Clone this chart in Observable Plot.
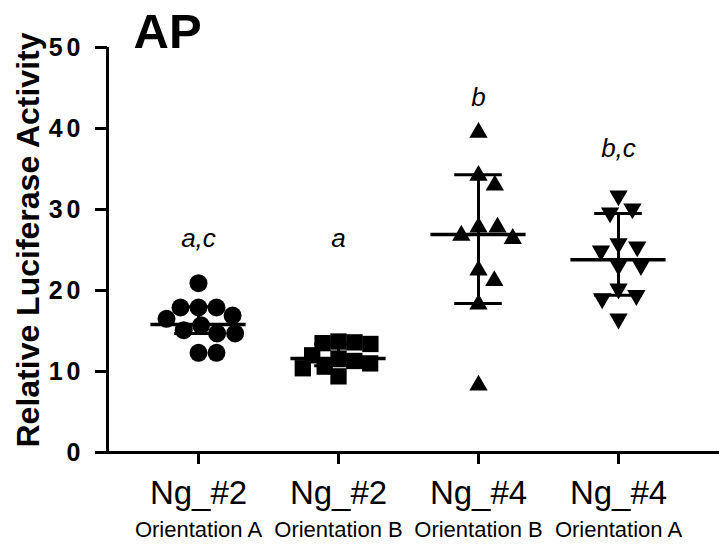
<!DOCTYPE html>
<html><head><meta charset="utf-8">
<script src="https://cdn.jsdelivr.net/npm/d3@7"></script>
<script src="https://cdn.jsdelivr.net/npm/@observablehq/plot@0.6"></script>
<style>
body{margin:0;background:#fff}
#chart [aria-label="y-axis tick label"] text{letter-spacing:4px}
</style></head><body><div id="chart"></div>
<script>
// ---- data ----
const categories = ["Ng_#2", "Ng_#2", "Ng_#4", "Ng_#4"];
const orientations = ["Orientation A", "Orientation B", "Orientation B", "Orientation A"];
const sigLetters = ["a,c", "a", "b", "b,c"];
const sigLetterY = [26.4, 26.4, 43.8, 37.5];
const circlesNg2A = [20.9, 17.9, 17.9, 17.9, 16.9, 16.5, 15.7, 15.1, 14.7, 14.7, 12.3, 12.3];
const squaresNg2B = [13.7, 13.6, 13.5, 13.4, 12.0, 11.6, 11.3, 11.0, 10.6, 10.4, 9.4];
const trianglesNg4B = [39.5, 34.2, 33.0, 27.8, 27.8, 26.8, 26.4, 22.5, 21.2, 18.3, 8.3];
const invTrianglesNg4A = [31.7, 30.1, 29.6, 25.8, 25.4, 24.9, 23.1, 23.1, 20.2, 19.4, 19.0, 16.5];
const means = [15.8, 11.6, 26.9, 23.8];
const upperBar = [18.0, 13.4, 34.3, 29.5];
const lowerBar = [14.7, 10.7, 18.4, 19.4];
const yTicks = [0, 10, 20, 30, 40, 50];

// ---- layout ----
const W = 719, H = 546, mL = 107, mR = 0, mT = 47, mB = 94;
const firstCenter = 198, step = 140;
const xDomain = [(mL - firstCenter) / step, (W - mR - firstCenter) / step];
const pxY = (H - mT - mB) / 50;

const triangleDown = {
  draw(ctx, size) {
    const y = -Math.sqrt(size / (Math.sqrt(3) * 3));
    ctx.moveTo(0, -y * 2);
    ctx.lineTo(-Math.sqrt(3) * y, y);
    ctx.lineTo(Math.sqrt(3) * y, y);
    ctx.closePath();
  }
};

// beeswarm-style horizontal spreading (pixel space)
function dodge(values, D) {
  const placed = [];
  return values.map(v => {
    const cands = [0];
    for (const p of placed) {
      const dy = (v - p.v) * pxY;
      if (Math.abs(dy) < D) {
        const h = Math.sqrt(D * D - dy * dy);
        cands.push(p.o + h, p.o - h);
      }
    }
    cands.sort((a, b) => Math.abs(a) - Math.abs(b) || b - a);
    const ok = o => placed.every(p => {
      const dy = (v - p.v) * pxY, dx = o - p.o;
      return dx * dx + dy * dy >= D * D - 1e-6;
    });
    const o = cands.find(ok);
    placed.push({v, o});
    return o / step;
  });
}

const series = [
  {values: circlesNg2A, symbol: "circle", r: 9, D: 18},
  {values: squaresNg2B, symbol: "square", r: 9.2, D: 16},
  {values: trianglesNg4B, symbol: "triangle", r: 6.8, D: 19},
  {values: invTrianglesNg4A, symbol: triangleDown, r: 6.8, D: 19}
];

const groups = categories.map((c, i) => ({
  i, name: c, orient: orientations[i], letter: sigLetters[i], letterY: sigLetterY[i],
  mean: means[i], hi: upperBar[i], lo: lowerBar[i]
}));

const dotMarks = series.map((s, i) => {
  const offs = dodge(s.values, s.D);
  const pts = s.values.map((v, k) => ({x: i + offs[k], v}));
  return Plot.dot(pts, {x: "x", y: "v", symbol: s.symbol, r: s.r, fill: "black", stroke: "none"});
});

const halfMean = 0.34, halfCap = 0.17;

const chart = Plot.plot({
  width: W, height: H,
  marginLeft: mL, marginRight: mR, marginTop: mT, marginBottom: mB,
  style: {fontFamily: "'Liberation Sans', Arial, sans-serif", background: "white", color: "black"},
  x: {type: "linear", domain: xDomain, axis: null},
  y: {domain: [0, 50], axis: null},
  marks: [
    ...dotMarks,
    Plot.ruleY(groups, {y: "mean", x1: d => d.i - halfMean, x2: d => d.i + halfMean, strokeWidth: 3.5, stroke: "black"}),
    Plot.ruleX(groups, {x: "i", y1: "lo", y2: "hi", strokeWidth: 3, stroke: "black"}),
    Plot.ruleY(groups, {y: "hi", x1: d => d.i - halfCap, x2: d => d.i + halfCap, strokeWidth: 3, stroke: "black"}),
    Plot.ruleY(groups, {y: "lo", x1: d => d.i - halfCap, x2: d => d.i + halfCap, strokeWidth: 3, stroke: "black"}),
    Plot.ruleY([0], {strokeWidth: 3, stroke: "black"}),
    Plot.ruleX([xDomain[0]], {y1: 0, y2: 50, strokeWidth: 3, stroke: "black"}),
    Plot.axisY({ticks: yTicks, tickSize: 12, tickPadding: 11, strokeWidth: 3, fontSize: 25, fontWeight: "bold", label: null}),
    Plot.axisX({ticks: groups.map(d => d.i), tickSize: 12, strokeWidth: 3, tickFormat: () => "", label: null}),
    Plot.text(groups, {x: "i", y: "letterY", text: "letter", fontStyle: "italic", fontSize: 26, fill: "black"}),
    Plot.text(groups, {x: "i", text: "name", frameAnchor: "bottom", lineAnchor: "top", dy: 28, fontSize: 33, fill: "black"}),
    Plot.text(groups, {x: "i", text: "orient", frameAnchor: "bottom", lineAnchor: "top", dy: 69, fontSize: 22, fill: "black"}),
    Plot.text(["AP"], {frameAnchor: "top-left", textAnchor: "start", lineAnchor: "top", dx: 26, dy: -34, fontSize: 49, fontWeight: "bold", fill: "black"}),
    Plot.text(["Relative Luciferase Activity"], {frameAnchor: "left", rotate: -90, textAnchor: "middle", lineAnchor: "middle", dx: -79, dy: -10, fontSize: 32, fontWeight: "bold", fill: "black"})
  ]
});
document.getElementById("chart").appendChild(chart);
</script></body></html>
